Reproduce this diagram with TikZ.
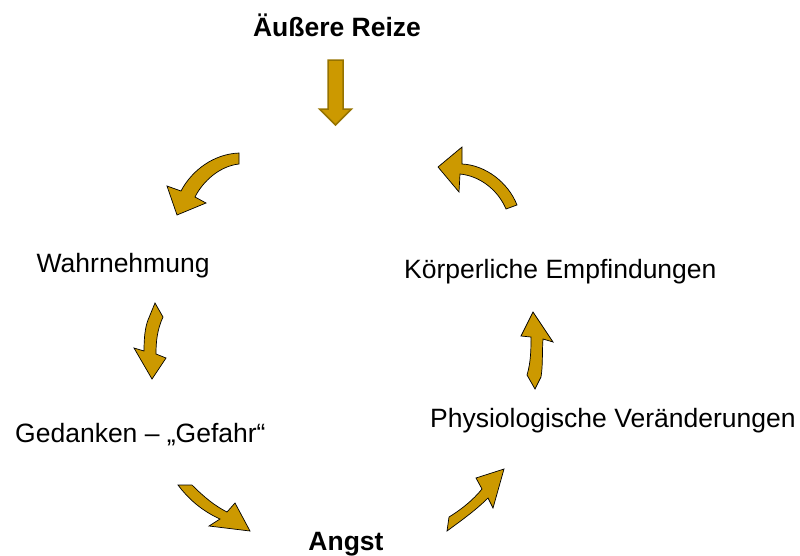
\documentclass[tikz,border=0pt]{standalone}
\usepackage{fontspec}
\setmainfont{Liberation Sans}
\definecolor{gold}{RGB}{204,153,0}
\definecolor{goldedge}{RGB}{150,115,0}
\begin{document}
\begin{tikzpicture}[x=1pt,y=-1pt,
  lbl/.style={inner sep=0pt,font=\fontsize{26.5}{30}\selectfont},
  blbl/.style={inner sep=0pt,font=\fontsize{26.5}{30}\selectfont\bfseries},
  curvarrow/.style={fill=gold,draw=black,line width=0.7pt,line join=miter},
  straightarrow/.style={fill=gold,draw=goldedge,line width=1.5pt,line join=miter}]
\useasboundingbox (0,0) rectangle (800,555);
% texts
\node[blbl,anchor=base] (reize) at (337,36) {Äußere Reize};
\node[lbl,anchor=base west] (wahr) at (36.5,272.3) {Wahrnehmung};
\node[lbl,anchor=base west] (ged) at (15,442.3) {Gedanken – „Gefahr“};
\node[blbl,anchor=base] (angst) at (346,550) {Angst};
\node[lbl,anchor=base west] (phys) at (430,427.3) {Physiologische Veränderungen};
\node[lbl,anchor=base west] (koerp) at (404,278.3) {Körperliche Empfindungen};
% straight arrow down
\draw[straightarrow] (328,60) -- (343,60) -- (343,109) -- (351.5,109) -- (335.5,125)
  -- (319.5,109) -- (328,109) -- cycle;
% top-left curved arrow
\draw[curvarrow] (239,153) .. controls (214,154) and (192,170) .. (181,191)
  -- (167,186) -- (177,215) -- (206,203) -- (195,197)
  .. controls (203,181) and (220,166) .. (239,164) -- cycle;
% top-right curved arrow
\draw[curvarrow] (506,209) .. controls (498,190) and (480,176) .. (460,174)
  -- (459,192) -- (438,167) -- (462,147) -- (462,164)
  .. controls (485,165) and (508,182) .. (517,205) -- cycle;
% left arrow Wahrnehmung -> Gedanken
\draw[curvarrow] (155,303) -- (163,317)
  .. controls (157,330) and (156,342) .. (156,354)
  -- (166,358) -- (152,379) -- (134,348) -- (144,351)
  .. controls (144,338) and (145,328) .. (148,320) -- cycle;
% right arrow Physiologische -> Koerperliche
\draw[curvarrow] (533,312) -- (553,342) -- (543,339)
  .. controls (542,352) and (543,365) .. (541,377)
  -- (535,389) -- (527,375)
  .. controls (531,362) and (531,348) .. (531,337)
  -- (521,336) -- cycle;
% bottom-left arrow Gedanken -> Angst
\draw[curvarrow] (178,485) -- (192,485)
  .. controls (204,497) and (215,506) .. (227,512)
  -- (235,503) -- (250,531) -- (209,526) -- (220,519)
  .. controls (200,510) and (187,497) .. (178,485) -- cycle;
% bottom-right arrow Angst -> Physiologische
\draw[curvarrow] (447,531) -- (449,517)
  .. controls (462,509) and (473,500) .. (482,489)
  -- (476,478) -- (504,469) -- (493,508) -- (488,498)
  .. controls (476,510) and (462,520) .. (447,531) -- cycle;
\end{tikzpicture}
\end{document}
